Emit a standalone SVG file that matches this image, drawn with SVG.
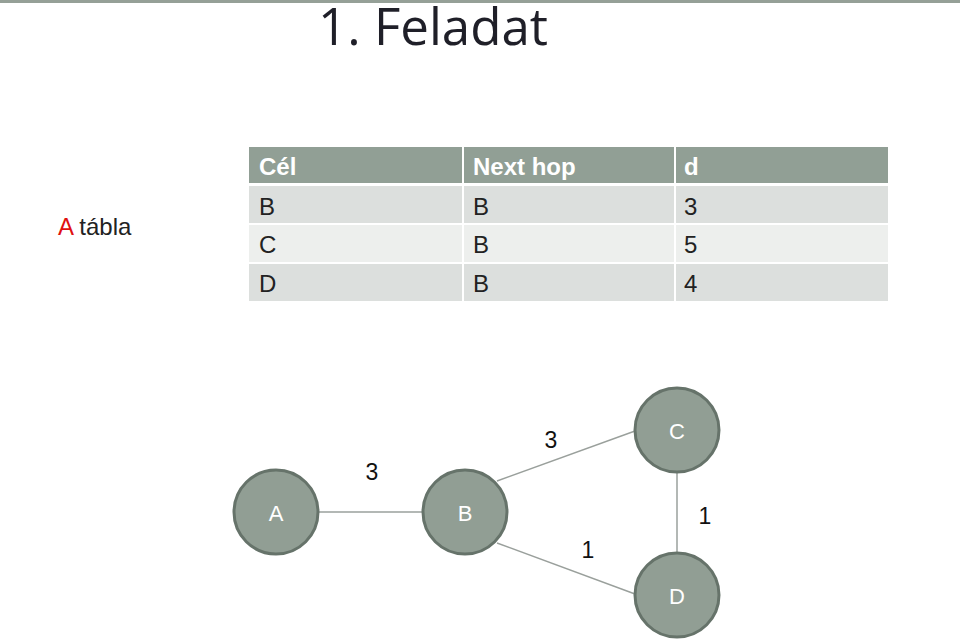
<svg xmlns="http://www.w3.org/2000/svg" width="960" height="641" viewBox="0 0 960 641">
<style>
.t{font-family:"Liberation Sans",Arial,sans-serif;font-size:24px;fill:#222}
.h{font-family:"Liberation Sans",Arial,sans-serif;font-size:24px;font-weight:bold;fill:#fff}
.n{fill:#919e94;stroke:#66736a;stroke-width:3}
.nl{font-family:"Liberation Sans",Arial,sans-serif;font-size:22px;fill:#fff;text-anchor:middle}
.e{stroke:#9aa09c;stroke-width:1.5;fill:none}
.w{font-family:"Liberation Sans",Arial,sans-serif;font-size:23px;fill:#111;text-anchor:middle}
</style>
<rect width="960" height="641" fill="#fff"/>
<rect x="0" y="0" width="960" height="3" fill="#95a097"/>
<text x="318" y="45" font-family="'Open Sans','Noto Sans',sans-serif" font-size="52" fill="#1f1f28" textLength="230" lengthAdjust="spacingAndGlyphs">1. Feladat</text>
<text x="58" y="235" class="t"><tspan fill="#e01010">A</tspan> tábla</text>
<g id="table">
<rect x="249" y="147" width="213" height="36" fill="#919f95"/>
<rect x="464" y="147" width="210" height="36" fill="#919f95"/>
<rect x="676" y="147" width="212" height="36" fill="#919f95"/>
<rect x="249" y="186" width="213" height="37" fill="#dcdfdd"/>
<rect x="464" y="186" width="210" height="37" fill="#dcdfdd"/>
<rect x="676" y="186" width="212" height="37" fill="#dcdfdd"/>
<rect x="249" y="225" width="213" height="37" fill="#edefed"/>
<rect x="464" y="225" width="210" height="37" fill="#edefed"/>
<rect x="676" y="225" width="212" height="37" fill="#edefed"/>
<rect x="249" y="264" width="213" height="37" fill="#dcdfdd"/>
<rect x="464" y="264" width="210" height="37" fill="#dcdfdd"/>
<rect x="676" y="264" width="212" height="37" fill="#dcdfdd"/>
<text x="259" y="175" class="h">Cél</text>
<text x="473" y="175" class="h">Next hop</text>
<text x="684" y="175" class="h">d</text>
<text x="259" y="215" class="t">B</text>
<text x="473" y="215" class="t">B</text>
<text x="684" y="215" class="t">3</text>
<text x="259" y="253" class="t">C</text>
<text x="473" y="253" class="t">B</text>
<text x="684" y="253" class="t">5</text>
<text x="259" y="292" class="t">D</text>
<text x="473" y="292" class="t">B</text>
<text x="684" y="292" class="t">4</text>
</g>
<g id="connectors">
<line class="e" x1="318" y1="512" x2="423" y2="512"/>
<line class="e" x1="497" y1="481" x2="635" y2="431"/>
<line class="e" x1="497" y1="543" x2="635" y2="594"/>
<line class="e" x1="677" y1="472" x2="677" y2="553"/>
<text class="w" x="372" y="480">3</text>
<text class="w" x="551" y="448">3</text>
<text class="w" x="588" y="558">1</text>
<text class="w" x="705" y="524">1</text>
</g>
<g id="node-A"><circle class="n" cx="276" cy="512" r="42"/><text class="nl" x="276" y="521">A</text></g>
<g id="node-B"><circle class="n" cx="465" cy="512" r="42"/><text class="nl" x="465" y="521">B</text></g>
<g id="node-C"><circle class="n" cx="677" cy="430" r="42"/><text class="nl" x="677" y="439">C</text></g>
<g id="node-D"><circle class="n" cx="677" cy="595" r="42"/><text class="nl" x="677" y="604">D</text></g>
</svg>
